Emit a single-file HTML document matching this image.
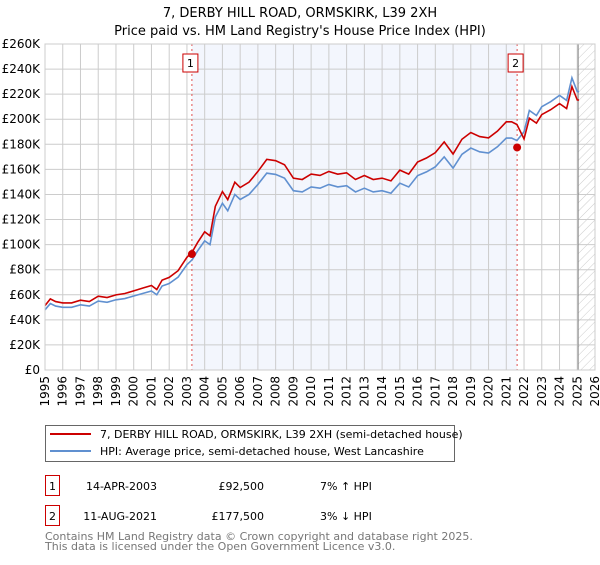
<!DOCTYPE html>
<html><head><meta charset="utf-8"><style>
body{margin:0;width:600px;height:560px;overflow:hidden;background:#fff;font-family:"Liberation Sans","DejaVu Sans",sans-serif;}
svg text{font-family:"DejaVu Sans","Liberation Sans",sans-serif;}
</style></head><body>
<svg id="c" width="600" height="560">
<defs><pattern id="hatch" width="6" height="6" patternUnits="userSpaceOnUse" patternTransform="rotate(45)"><line x1="0" y1="0" x2="0" y2="6" stroke="#ccc" stroke-width="1"/></pattern></defs>
<text x="300" y="17" text-anchor="middle" font-size="13">7, DERBY HILL ROAD, ORMSKIRK, L39 2XH</text>
<text x="300" y="35" text-anchor="middle" font-size="13">Price paid vs. HM Land Registry's House Price Index (HPI)</text>
<g id="plot"></g>
<rect x="45.5" y="425.5" width="409" height="36" fill="#fff" stroke="#666"/>
<line x1="50" y1="434" x2="91" y2="434" stroke="#cc0000" stroke-width="2"/>
<text x="100" y="438" font-size="11">7, DERBY HILL ROAD, ORMSKIRK, L39 2XH (semi-detached house)</text>
<line x1="50" y1="451" x2="91" y2="451" stroke="#6090d0" stroke-width="2"/>
<text x="100" y="455" font-size="11">HPI: Average price, semi-detached house, West Lancashire</text>
<rect x="45.5" y="475.5" width="14" height="20" fill="#fff" stroke="#cc0000"/>
<text x="52.5" y="490" text-anchor="middle" font-size="11">1</text>
<text x="157" y="490" text-anchor="end" font-size="11">14-APR-2003</text>
<text x="264" y="490" text-anchor="end" font-size="11">£92,500</text>
<text x="320" y="490" font-size="11">7% ↑ HPI</text>
<rect x="45.5" y="505.5" width="14" height="20" fill="#fff" stroke="#cc0000"/>
<text x="52.5" y="520" text-anchor="middle" font-size="11">2</text>
<text x="157" y="520" text-anchor="end" font-size="11">11-AUG-2021</text>
<text x="264" y="520" text-anchor="end" font-size="11">£177,500</text>
<text x="320" y="520" font-size="11">3% ↓ HPI</text>
<text x="45" y="540" font-size="11" fill="#777">Contains HM Land Registry data © Crown copyright and database right 2025.</text>
<text x="45" y="550" font-size="11" fill="#777">This data is licensed under the Open Government Licence v3.0.</text>
</svg>
<script>
const years=[1995,1995.3,1995.6,1996,1996.5,1997,1997.5,1998,1998.5,1999,1999.5,2000,2000.5,2001,2001.3,2001.6,2002,2002.5,2003,2003.3,2003.6,2004,2004.3,2004.6,2005,2005.3,2005.7,2006,2006.5,2007,2007.5,2008,2008.5,2009,2009.5,2010,2010.5,2011,2011.5,2012,2012.5,2013,2013.5,2014,2014.5,2015,2015.5,2016,2016.5,2017,2017.5,2018,2018.5,2019,2019.5,2020,2020.5,2021,2021.3,2021.6,2022,2022.3,2022.7,2023,2023.5,2024,2024.4,2024.7,2025.0,2025.1];
const hpi=[48,53,51,50,50,52,51,55,54,56,57,59,61,63,60,67,69,74,84,88,95,103,100,122,133,127,140,136,140,148,157,156,153,143,142,146,145,148,146,147,142,145,142,143,141,149,146,155,158,162,170,161,172,177,174,173,178,185,185,183,190,207,203,210,214,219,215,233,222,222];
const yTicks=[0,20,40,60,80,100,120,140,160,180,200,220,240,260];
const xTicks=[1995,1996,1997,1998,1999,2000,2001,2002,2003,2004,2005,2006,2007,2008,2009,2010,2011,2012,2013,2014,2015,2016,2017,2018,2019,2020,2021,2022,2023,2024,2025,2026];
const saleYears=[2003.28,2021.61];
const salePrices=[92.5,177.5];
const saleLabels=["1","2"];
const ratios=[1.07,0.97];
const X=v=>45+(v-1995)*(550/31), Y=v=>370-v*(326/260);
const NS="http://www.w3.org/2000/svg", g=document.getElementById('plot');
function mk(t,a,p){const e=document.createElementNS(NS,t);for(const k in a)e.setAttribute(k,a[k]);(p||g).appendChild(e);return e;}
const shade=mk('rect',{x:X(saleYears[0]),y:Y(260),width:X(saleYears[1])-X(saleYears[0]),height:Y(0)-Y(260),fill:'#eef2fc',opacity:0.7});


const hatch=mk('rect',{x:X(2025.05),y:Y(260),width:X(2026)-X(2025.05),height:Y(0)-Y(260),fill:'url(#hatch)'});


yTicks.forEach(v=>{const l=mk('line',{x1:45,x2:595,y1:Y(v),y2:Y(v),stroke:'#ccc'});


const t=mk('text',{x:40,y:Y(v)+4,'text-anchor':'end','font-size':12});t.textContent=v===0?'£0':'£'+v+'K';

});
xTicks.forEach(v=>{const l=mk('line',{x1:X(v),x2:X(v),y1:Y(260),y2:Y(0),stroke:'#ccc'});


const t=mk('text',{x:0,y:0,'text-anchor':'end','font-size':12,transform:`translate(${X(v)+4},376) rotate(-90)`});t.textContent=v;

});
const vl=mk('line',{x1:X(2025.05),x2:X(2025.05),y1:Y(260),y2:Y(0),stroke:'#888'});


saleYears.forEach((s,i)=>{const l=mk('line',{x1:X(s),x2:X(s),y1:Y(260),y2:Y(0),stroke:'#e05050','stroke-dasharray':'2,3'});


const b=mk('rect',{x:X(s)-9,y:54,width:15,height:18,fill:'#fff',stroke:'#cc0000'});


const t=mk('text',{x:X(s)-1.5,y:67,'text-anchor':'middle','font-size':11});t.textContent=saleLabels[i];});
const bp=hpi.map((v,i)=>X(years[i])+','+Y(v)).join(' ');
const rp=hpi.map((v,i)=>X(years[i])+','+Y(v*(years[i]<saleYears[1]?ratios[0]:ratios[1]))).join(' ');
const bl=mk('polyline',{points:bp,fill:'none',stroke:'#6090d0','stroke-width':1.6});


const rl=mk('polyline',{points:rp,fill:'none',stroke:'#cc0000','stroke-width':1.6});


saleYears.forEach((s,i)=>{const c=mk('circle',{cx:X(s),cy:Y(salePrices[i]),r:4,fill:'#cc0000'});

});
const ax=mk('rect',{x:45,y:Y(260),width:550,height:Y(0)-Y(260),fill:'none',stroke:'#ccc'});


</script>
</body></html>
